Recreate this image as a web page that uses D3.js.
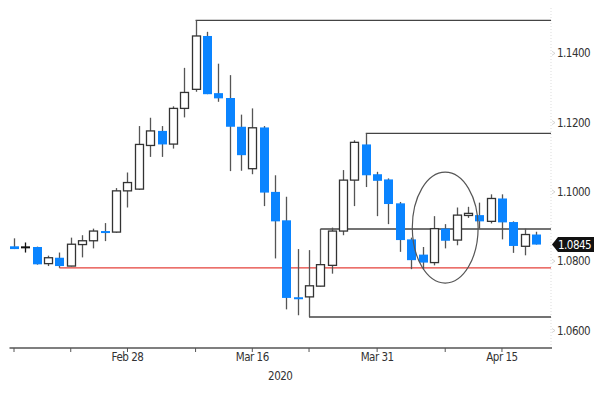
<!DOCTYPE html>
<html><head><meta charset="utf-8">
<script src="https://cdn.jsdelivr.net/npm/d3@7"></script>
<style>
html,body{margin:0;padding:0;background:#fff;}
svg text{font-family:"DejaVu Sans Condensed","Liberation Sans",sans-serif;font-size:11.5px;letter-spacing:-0.5px;fill:#333;}
</style></head>
<body><svg id="c" width="600" height="393"></svg>
<script>
const dates = ["2020-02-14","2020-02-17","2020-02-18","2020-02-19","2020-02-20","2020-02-21",
"2020-02-24","2020-02-25","2020-02-26","2020-02-27","2020-02-28",
"2020-03-02","2020-03-03","2020-03-04","2020-03-05","2020-03-06",
"2020-03-09","2020-03-10","2020-03-11","2020-03-12","2020-03-13",
"2020-03-16","2020-03-17","2020-03-18","2020-03-19","2020-03-20",
"2020-03-23","2020-03-24","2020-03-25","2020-03-26","2020-03-27",
"2020-03-30","2020-03-31","2020-04-01","2020-04-02","2020-04-03",
"2020-04-06","2020-04-07","2020-04-08","2020-04-09","2020-04-10",
"2020-04-13","2020-04-14","2020-04-15","2020-04-16","2020-04-17",
"2020-04-20"];
const open  = [1.0843,1.0840,1.0841,1.0793,1.0810,1.0786,1.0848,1.0859,1.0887,1.0884,1.1003,1.1008,1.1134,1.1176,1.1138,1.1241,1.1296,1.1450,1.1285,1.1271,1.1188,1.1067,1.1186,1.1000,1.0918,1.0696,1.0697,1.0728,1.0788,1.0887,1.1034,1.1137,1.1051,1.1036,1.0967,1.0863,1.0819,1.0796,1.0894,1.0861,1.0932,1.0933,1.0915,1.0981,1.0913,1.0843,1.0877];
const high  = [1.0866,1.0854,1.0842,1.0816,1.0825,1.0868,1.0875,1.0894,1.0910,1.1011,1.1056,1.1190,1.1214,1.1190,1.1247,1.1358,1.1495,1.1462,1.1370,1.1337,1.1223,1.1241,1.1190,1.1048,1.0986,1.0835,1.0832,1.0893,1.0897,1.1063,1.1149,1.1169,1.1058,1.1039,1.0971,1.0868,1.0841,1.0930,1.0907,1.0955,1.0957,1.0969,1.0993,1.0993,1.0915,1.0894,1.0885];
const low   = [1.0835,1.0825,1.0790,1.0786,1.0781,1.0785,1.0811,1.0837,1.0858,1.0882,1.0955,1.1006,1.1101,1.1101,1.1125,1.1215,1.1289,1.1282,1.1260,1.1060,1.1061,1.1051,1.0959,1.0808,1.0661,1.0644,1.0639,1.0727,1.0764,1.0875,1.0959,1.1014,1.0930,1.0907,1.0827,1.0777,1.0776,1.0788,1.0837,1.0846,1.0925,1.0894,1.0909,1.0863,1.0824,1.0817,1.0848];
const close = [1.0835,1.0840,1.0791,1.0810,1.0786,1.0849,1.0859,1.0887,1.0882,1.1003,1.1027,1.1137,1.1176,1.1137,1.1241,1.1287,1.1450,1.1282,1.1270,1.1188,1.1106,1.1185,1.0998,1.0915,1.0694,1.0692,1.0729,1.0790,1.0887,1.1034,1.1143,1.1048,1.1032,1.0965,1.0861,1.0803,1.0796,1.0894,1.0859,1.0933,1.0938,1.0915,1.0981,1.0912,1.0844,1.0877,1.0848];

const yTicks = [1.06,1.08,1.10,1.12,1.14];
const xMajorTicks = ["2020-02-28","2020-03-16","2020-03-31","2020-04-15"];
const xMajorLabels = ["Feb 28","Mar 16","Mar 31","Apr 15"];
const xMinorTicks = ["2020-02-14","2020-02-21","2020-03-09","2020-03-23","2020-04-08"];
const yearLabel = "2020";
const lastPrice = 1.0845;

const levelDates  = ["2020-03-09","2020-03-30","2020-03-24","2020-03-23"];
const levelValues = [1.1495,1.1169,1.0893,1.0639];
const supportDate = "2020-02-20";
const supportValue = 1.0781;
const ellipseCenterDate = "2020-04-08";
const ellipseCenterValue = 1.0897;
const ellipseHalfHeight = 0.0160;
const ellipseHalfWidthDays = 2.9;

const svg = d3.select("#c");
const x = d3.scalePoint().domain(dates).range([14, 536]);
const step = x.step();
const y = d3.scaleLinear().domain([1.06, 1.14]).range([330.5, 53.3]);
const rightEdge = 551;
const axisLeft = 9.5;

// right axis dotted line
svg.append("line").attr("x1",rightEdge).attr("x2",rightEdge).attr("y1",8).attr("y2",346)
  .attr("stroke","#ddd").attr("stroke-dasharray","1,2");

// y ticks & labels
const yg = svg.append("g");
yTicks.forEach(v=>{
  yg.append("path").attr("d",`M${rightEdge+1},${y(v)-2}L${rightEdge+4},${y(v)}L${rightEdge+1},${y(v)+2}`)
    .attr("fill","none").attr("stroke","#ccc").attr("stroke-width",0.8);
  yg.append("text").attr("x",557).attr("y",y(v)).attr("dy","0.35em").text(v.toFixed(4));
});

// x axis
const axisY = 348;
svg.append("line").attr("x1",axisLeft).attr("x2",rightEdge+1).attr("y1",axisY).attr("y2",axisY)
  .attr("stroke","#555").attr("stroke-width",1.3);
xMajorTicks.concat(xMinorTicks).forEach(d=>{
  svg.append("line").attr("x1",x(d)).attr("x2",x(d)).attr("y1",axisY).attr("y2",axisY+4)
    .attr("stroke","#555").attr("stroke-width",1);
});
xMajorTicks.forEach((d,i)=>{
  svg.append("text").attr("x",x(d)).attr("y",361).attr("text-anchor","middle").text(xMajorLabels[i]);
});
svg.append("text").attr("x",(axisLeft+rightEdge)/2).attr("y",380)
  .attr("text-anchor","middle").text(yearLabel);

// support (red) line
svg.append("line").attr("x1",x(supportDate)).attr("x2",rightEdge)
  .attr("y1",y(supportValue)).attr("y2",y(supportValue))
  .attr("stroke","#e5403a").attr("stroke-width",1.3);

// level lines
levelDates.forEach((d,i)=>{
  svg.append("line").attr("x1",x(d)).attr("x2",rightEdge)
    .attr("y1",y(levelValues[i])).attr("y2",y(levelValues[i]))
    .attr("stroke","#444").attr("stroke-width",1.4);
});

// candles
const data = dates.map((d,i)=>({d,o:open[i],h:high[i],l:low[i],c:close[i]}));
const bw = 9;
const cg = svg.append("g");
data.forEach(k=>{
  const cx = Math.round(x(k.d))+0.5;
  const up = k.c > k.o, doji = k.c === k.o;
  cg.append("line").attr("x1",cx).attr("x2",cx).attr("y1",y(k.h)).attr("y2",y(k.l))
    .attr("stroke", doji ? "#111" : "#555").attr("stroke-width",1.3);
  if (doji) {
    cg.append("line").attr("x1",cx-bw/2).attr("x2",cx+bw/2).attr("y1",y(k.o)).attr("y2",y(k.o))
      .attr("stroke","#111").attr("stroke-width",2);
  } else if (up) {
    const t = y(k.c), b = y(k.o);
    cg.append("rect").attr("x",cx-bw/2+0.5).attr("width",bw-1).attr("y",t).attr("height",Math.max(1.5,b-t))
      .attr("fill","#fff").attr("stroke","#333").attr("stroke-width",1.3);
  } else {
    const t = y(k.o), b = y(k.c);
    cg.append("rect").attr("x",cx-bw/2).attr("width",bw).attr("y",t).attr("height",Math.max(2,b-t))
      .attr("fill","#0a84ff");
  }
});

// ellipse annotation
svg.append("ellipse").attr("cx",x(ellipseCenterDate)).attr("cy",y(ellipseCenterValue))
  .attr("rx",ellipseHalfWidthDays*step).attr("ry",y(ellipseCenterValue-ellipseHalfHeight)-y(ellipseCenterValue))
  .attr("fill","none").attr("stroke","#555").attr("stroke-width",1.2);

// last price tag
const ly = y(lastPrice)-1;
svg.append("path").attr("d",`M552,${ly}L558,${ly-7.5}L594,${ly-7.5}L594,${ly+7.5}L558,${ly+7.5}Z`).attr("fill","#111");
svg.append("text").attr("x",558).attr("y",ly).attr("dy","0.36em").style("fill","#fff").text(lastPrice.toFixed(4));
</script></body></html>
